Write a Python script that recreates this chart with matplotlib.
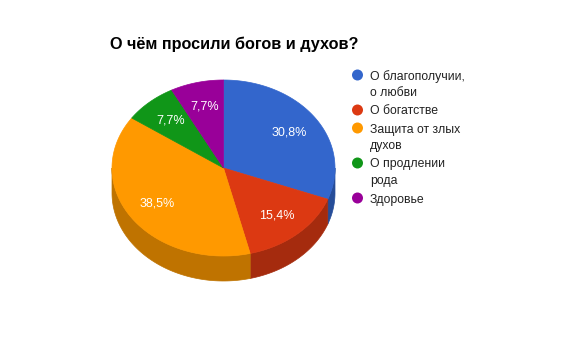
import numpy as np
import matplotlib
matplotlib.use("Agg")
import matplotlib.pyplot as plt
from matplotlib.patches import Polygon, Circle

title = "О чём просили богов и духов?"
categories = ["О благополучии,\nо любви", "О богатстве", "Защита от злых\nдухов", "О продлении\nрода", "Здоровье"]
values = [4, 2, 5, 1, 1]
colors = ["#3366cc", "#dc3912", "#ff9900", "#109618", "#990099"]

plt.rcParams['font.family'] = ['Liberation Sans', 'DejaVu Sans']

fig = plt.figure(figsize=(5.84, 3.61), dpi=100)
ax = fig.add_axes([0, 0, 1, 1])
ax.set_xlim(0, 584)
ax.set_ylim(361, 0)
ax.axis('off')

cx, cy, rx, ry, depth = 223.5, 168.0, 111.5, 88.0, 25.0

def darker(c, f=0.75):
    r, g, b = matplotlib.colors.to_rgb(c)
    return (r * f, g * f, b * f)

def pt(theta, dy=0.0, frac=1.0):
    t = np.radians(theta)
    return cx + frac * rx * np.sin(t), cy - frac * ry * np.cos(t) + dy

total = sum(values)
fracs = [v / total for v in values]
starts = np.concatenate([[0], np.cumsum(fracs)[:-1]]) * 360
ends = np.cumsum(fracs) * 360

# side walls (visible front half: 90..270)
for s, e, c in zip(starts, ends, colors):
    a, b = max(s, 90), min(e, 270)
    if b <= a:
        continue
    th = np.linspace(a, b, 80)
    top = [pt(t) for t in th]
    bot = [pt(t, depth) for t in th[::-1]]
    ax.add_patch(Polygon(top + bot, closed=True, facecolor=darker(c),
                         edgecolor=darker(c), lw=0.5))

# top faces
for s, e, c in zip(starts, ends, colors):
    th = np.linspace(s, e, 120)
    poly = [(cx, cy)] + [pt(t) for t in th]
    ax.add_patch(Polygon(poly, closed=True, facecolor=c, edgecolor=c, lw=0.5))

# labels
for s, e, f in zip(starts, ends, fracs):
    m = (s + e) / 2
    x, y = pt(m, frac=0.72)
    ax.text(x, y, f"{f*100:.1f}%".replace(".", ","), color="white",
            fontsize=9, ha="center", va="center")

ax.text(110, 44, title, fontsize=11.7, fontweight="bold", color="black",
        ha="left", va="center")

# legend
legend_y = [75, 110, 128, 163, 198]
line_step = 16.5
for yy, lab, c in zip(legend_y, categories, colors):
    ax.add_patch(Circle((357.5, yy), 5.5, facecolor=c, edgecolor='none'))
    for i, line in enumerate(lab.split("\n")):
        ax.text(370, yy + i * line_step, line, fontsize=8.8, color="#222222",
                ha="left", va="center_baseline")

fig.savefig("out.png", dpi=100)
